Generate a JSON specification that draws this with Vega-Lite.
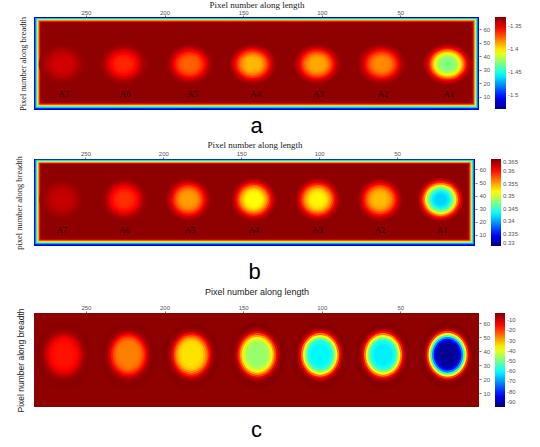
{
"$schema": "https://vega.github.io/schema/vega-lite/v6.json",
"padding": {"left": 14, "top": 0, "right": 2, "bottom": 0},
"background": "white",
"spacing": 3,
"config": {"view": {"stroke": null}, "axis": {"labelFont": "Liberation Sans", "labelFontSize": 6, "labelColor": "#555", "tickColor": "#777", "tickSize": 2, "domain": false, "grid": false, "titleColor": "#222", "titleFontWeight": "normal"}, "legend": {"labelFont": "Liberation Sans", "labelFontSize": 6, "labelColor": "#555", "padding": 0, "offset": 5, "labelOverlap": false, "gradientStrokeWidth": 0}},
"resolve": {"scale": {"x": "independent", "y": "independent", "color": "independent", "size": "independent"}, "legend": {"color": "independent"}},
"datasets": {
"fa": [{"x":0,"x2":283,"y":0,"y2":69,"v":-1.51},{"x":0.8,"x2":282.2,"y":1.3,"y2":68.3,"v":-1.47},{"x":1.5,"x2":281.5,"y":2.1,"y2":67.7,"v":-1.44},{"x":2.2,"x2":280.8,"y":2.9,"y2":67.1,"v":-1.406},{"x":2.8,"x2":280.2,"y":3.6,"y2":66.5,"v":-1.374},{"x":3.4,"x2":279.6,"y":4.3,"y2":65.9,"v":-1.354},{"x":4,"x2":279,"y":5,"y2":65.3,"v":-1.333}],
"fb": [{"x":0,"x2":283,"y":1.5,"y2":68,"v":0.3335},{"x":0.8,"x2":282.2,"y":2.9,"y2":67.4,"v":0.3405},{"x":1.5,"x2":281.5,"y":3.7,"y2":66.8,"v":0.3458},{"x":2.2,"x2":280.8,"y":4.4,"y2":66.1,"v":0.3517},{"x":2.8,"x2":280.2,"y":5.1,"y2":65.5,"v":0.3573},{"x":3.4,"x2":279.6,"y":5.8,"y2":64.9,"v":0.3608},{"x":4,"x2":279,"y":6.5,"y2":64.3,"v":0.3645}],
"fc": [{"x":0,"x2":283,"y":0,"y2":67.5,"v":-4.4}],
"la": [{"x":19,"y":12,"t":"A1"},{"x":61,"y":12,"t":"A2"},{"x":102,"y":12,"t":"A3"},{"x":142,"y":12,"t":"A4"},{"x":182,"y":12,"t":"A5"},{"x":225,"y":12,"t":"A6"},{"x":264,"y":12,"t":"A7"}],
"lb": [{"x":21,"y":14,"t":"A1"},{"x":61,"y":14,"t":"A2"},{"x":101,"y":14,"t":"A3"},{"x":142,"y":14,"t":"A4"},{"x":183,"y":14,"t":"A5"},{"x":225,"y":14,"t":"A6"},{"x":265,"y":14,"t":"A7"}],
"ra": [
{"x":20,"y":34,"r":13,"v":-1.338},{"x":20,"y":34,"r":12,"v":-1.345},{"x":20,"y":34,"r":11,"v":-1.354},{"x":20,"y":34,"r":10,"v":-1.369},{"x":20,"y":34,"r":9,"v":-1.384},{"x":20,"y":34,"r":8,"v":-1.399},{"x":20,"y":34,"r":7,"v":-1.411},{"x":20,"y":34,"r":6,"v":-1.419},{"x":20,"y":34,"r":5,"v":-1.426},{"x":20,"y":34,"r":3.5,"v":-1.43},
{"x":62,"y":34,"r":13,"v":-1.336},{"x":62,"y":34,"r":12,"v":-1.339},{"x":62,"y":34,"r":11,"v":-1.344},{"x":62,"y":34,"r":10,"v":-1.351},{"x":62,"y":34,"r":9,"v":-1.359},{"x":62,"y":34,"r":8,"v":-1.366},{"x":62,"y":34,"r":7,"v":-1.372},{"x":62,"y":34,"r":6,"v":-1.377},{"x":62,"y":34,"r":5,"v":-1.38},{"x":62,"y":34,"r":3.5,"v":-1.382},
{"x":103,"y":34,"r":13,"v":-1.336},{"x":103,"y":34,"r":12,"v":-1.34},{"x":103,"y":34,"r":11,"v":-1.345},{"x":103,"y":34,"r":10,"v":-1.353},{"x":103,"y":34,"r":9,"v":-1.362},{"x":103,"y":34,"r":8,"v":-1.37},{"x":103,"y":34,"r":7,"v":-1.377},{"x":103,"y":34,"r":6,"v":-1.382},{"x":103,"y":34,"r":5,"v":-1.386},{"x":103,"y":34,"r":3.5,"v":-1.388},
{"x":144,"y":34,"r":13,"v":-1.336},{"x":144,"y":34,"r":12,"v":-1.34},{"x":144,"y":34,"r":11,"v":-1.346},{"x":144,"y":34,"r":10,"v":-1.355},{"x":144,"y":34,"r":9,"v":-1.364},{"x":144,"y":34,"r":8,"v":-1.372},{"x":144,"y":34,"r":7,"v":-1.379},{"x":144,"y":34,"r":6,"v":-1.385},{"x":144,"y":34,"r":5,"v":-1.389},{"x":144,"y":34,"r":3.5,"v":-1.391},
{"x":184,"y":34,"r":13,"v":-1.335},{"x":184,"y":34,"r":12,"v":-1.338},{"x":184,"y":34,"r":11,"v":-1.342},{"x":184,"y":34,"r":10,"v":-1.348},{"x":184,"y":34,"r":9,"v":-1.355},{"x":184,"y":34,"r":8,"v":-1.361},{"x":184,"y":34,"r":7,"v":-1.366},{"x":184,"y":34,"r":6,"v":-1.37},{"x":184,"y":34,"r":5,"v":-1.372},{"x":184,"y":34,"r":3.5,"v":-1.374},
{"x":226,"y":34,"r":13,"v":-1.335},{"x":226,"y":34,"r":12,"v":-1.337},{"x":226,"y":34,"r":11,"v":-1.339},{"x":226,"y":34,"r":10,"v":-1.344},{"x":226,"y":34,"r":9,"v":-1.348},{"x":226,"y":34,"r":8,"v":-1.353},{"x":226,"y":34,"r":7,"v":-1.356},{"x":226,"y":34,"r":6,"v":-1.359},{"x":226,"y":34,"r":5,"v":-1.361},{"x":226,"y":34,"r":3.5,"v":-1.362},
{"x":265,"y":34,"r":13,"v":-1.334},{"x":265,"y":34,"r":12,"v":-1.335},{"x":265,"y":34,"r":11,"v":-1.336},{"x":265,"y":34,"r":10,"v":-1.338},{"x":265,"y":34,"r":9,"v":-1.34},{"x":265,"y":34,"r":8,"v":-1.342},{"x":265,"y":34,"r":7,"v":-1.343},{"x":265,"y":34,"r":6,"v":-1.345},{"x":265,"y":34,"r":5,"v":-1.346},{"x":265,"y":34,"r":3.5,"v":-1.346}
],
"rb": [
{"x":22,"y":37,"r":13,"v":0.3634},{"x":22,"y":37,"r":12,"v":0.3618},{"x":22,"y":37,"r":11,"v":0.3595},{"x":22,"y":37,"r":10,"v":0.356},{"x":22,"y":37,"r":9,"v":0.3524},{"x":22,"y":37,"r":8,"v":0.3489},{"x":22,"y":37,"r":7,"v":0.3462},{"x":22,"y":37,"r":6,"v":0.3441},{"x":22,"y":37,"r":5,"v":0.3425},{"x":22,"y":37,"r":3.5,"v":0.3416},
{"x":61,"y":37,"r":13,"v":0.364},{"x":61,"y":37,"r":12,"v":0.3633},{"x":61,"y":37,"r":11,"v":0.3622},{"x":61,"y":37,"r":10,"v":0.3607},{"x":61,"y":37,"r":9,"v":0.359},{"x":61,"y":37,"r":8,"v":0.3575},{"x":61,"y":37,"r":7,"v":0.3563},{"x":61,"y":37,"r":6,"v":0.3553},{"x":61,"y":37,"r":5,"v":0.3546},{"x":61,"y":37,"r":3.5,"v":0.3542},
{"x":101,"y":37,"r":13,"v":0.3639},{"x":101,"y":37,"r":12,"v":0.363},{"x":101,"y":37,"r":11,"v":0.3618},{"x":101,"y":37,"r":10,"v":0.3599},{"x":101,"y":37,"r":9,"v":0.3579},{"x":101,"y":37,"r":8,"v":0.3561},{"x":101,"y":37,"r":7,"v":0.3546},{"x":101,"y":37,"r":6,"v":0.3535},{"x":101,"y":37,"r":5,"v":0.3526},{"x":101,"y":37,"r":3.5,"v":0.3521},
{"x":142,"y":37,"r":13,"v":0.3639},{"x":142,"y":37,"r":12,"v":0.363},{"x":142,"y":37,"r":11,"v":0.3617},{"x":142,"y":37,"r":10,"v":0.3598},{"x":142,"y":37,"r":9,"v":0.3577},{"x":142,"y":37,"r":8,"v":0.3558},{"x":142,"y":37,"r":7,"v":0.3543},{"x":142,"y":37,"r":6,"v":0.3531},{"x":142,"y":37,"r":5,"v":0.3522},{"x":142,"y":37,"r":3.5,"v":0.3517},
{"x":184,"y":37,"r":13,"v":0.364},{"x":184,"y":37,"r":12,"v":0.3634},{"x":184,"y":37,"r":11,"v":0.3625},{"x":184,"y":37,"r":10,"v":0.3611},{"x":184,"y":37,"r":9,"v":0.3596},{"x":184,"y":37,"r":8,"v":0.3582},{"x":184,"y":37,"r":7,"v":0.3571},{"x":184,"y":37,"r":6,"v":0.3562},{"x":184,"y":37,"r":5,"v":0.3556},{"x":184,"y":37,"r":3.5,"v":0.3552},
{"x":225,"y":37,"r":13,"v":0.3642},{"x":225,"y":37,"r":12,"v":0.3639},{"x":225,"y":37,"r":11,"v":0.3633},{"x":225,"y":37,"r":10,"v":0.3625},{"x":225,"y":37,"r":9,"v":0.3616},{"x":225,"y":37,"r":8,"v":0.3608},{"x":225,"y":37,"r":7,"v":0.3602},{"x":225,"y":37,"r":6,"v":0.3597},{"x":225,"y":37,"r":5,"v":0.3593},{"x":225,"y":37,"r":3.5,"v":0.3591},
{"x":265,"y":37,"r":13,"v":0.3644},{"x":265,"y":37,"r":12,"v":0.3643},{"x":265,"y":37,"r":11,"v":0.3641},{"x":265,"y":37,"r":10,"v":0.3638},{"x":265,"y":37,"r":9,"v":0.3635},{"x":265,"y":37,"r":8,"v":0.3632},{"x":265,"y":37,"r":7,"v":0.363},{"x":265,"y":37,"r":6,"v":0.3628},{"x":265,"y":37,"r":5,"v":0.3627},{"x":265,"y":37,"r":3.5,"v":0.3626}
],
"rc": [
{"x":20,"y":37,"r":16.5,"v":-3.4},{"x":20,"y":37.5,"r":14,"v":-5.3},{"x":20,"y":37.5,"r":13,"v":-9.7},{"x":20,"y":37.5,"r":12,"v":-20.4},{"x":20,"y":37.5,"r":11,"v":-37.3},{"x":20,"y":37.5,"r":10,"v":-55.9},{"x":20,"y":37.5,"r":9,"v":-71},{"x":20,"y":37.5,"r":8,"v":-82.5},{"x":20,"y":37.5,"r":7,"v":-89.6},{"x":20,"y":37.5,"r":5.5,"v":-93.2},
{"x":61,"y":37,"r":16.5,"v":-3.5},{"x":61,"y":37.5,"r":14,"v":-5},{"x":61,"y":37.5,"r":13,"v":-7.9},{"x":61,"y":37.5,"r":12,"v":-14.8},{"x":61,"y":37.5,"r":11,"v":-25.7},{"x":61,"y":37.5,"r":10,"v":-37.8},{"x":61,"y":37.5,"r":9,"v":-47.5},{"x":61,"y":37.5,"r":8,"v":-55},{"x":61,"y":37.5,"r":7,"v":-59.6},{"x":61,"y":37.5,"r":5.5,"v":-61.9},
{"x":101,"y":37,"r":16.5,"v":-3.5},{"x":101,"y":37.5,"r":14,"v":-5},{"x":101,"y":37.5,"r":13,"v":-7.8},{"x":101,"y":37.5,"r":12,"v":-14.6},{"x":101,"y":37.5,"r":11,"v":-25.3},{"x":101,"y":37.5,"r":10,"v":-37.2},{"x":101,"y":37.5,"r":9,"v":-46.9},{"x":101,"y":37.5,"r":8,"v":-54.2},{"x":101,"y":37.5,"r":7,"v":-58.7},{"x":101,"y":37.5,"r":5.5,"v":-61},
{"x":141,"y":37,"r":16.5,"v":-3.6},{"x":141,"y":37.5,"r":14,"v":-4.8},{"x":141,"y":37.5,"r":13,"v":-7},{"x":141,"y":37.5,"r":12,"v":-12.1},{"x":141,"y":37.5,"r":11,"v":-20.2},{"x":141,"y":37.5,"r":10,"v":-29.1},{"x":141,"y":37.5,"r":9,"v":-36.4},{"x":141,"y":37.5,"r":8,"v":-41.9},{"x":141,"y":37.5,"r":7,"v":-45.3},{"x":141,"y":37.5,"r":5.5,"v":-47},
{"x":183,"y":37,"r":16.5,"v":-3.6},{"x":183,"y":37.5,"r":14,"v":-4.7},{"x":183,"y":37.5,"r":13,"v":-6.2},{"x":183,"y":37.5,"r":12,"v":-9.9},{"x":183,"y":37.5,"r":11,"v":-15.7},{"x":183,"y":37.5,"r":10,"v":-22.2},{"x":183,"y":37.5,"r":9,"v":-27.4},{"x":183,"y":37.5,"r":8,"v":-31.3},{"x":183,"y":37.5,"r":7,"v":-33.8},{"x":183,"y":37.5,"r":5.5,"v":-35},
{"x":223,"y":37,"r":16.5,"v":-3.7},{"x":223,"y":37.5,"r":14,"v":-4.6},{"x":223,"y":37.5,"r":13,"v":-5.7},{"x":223,"y":37.5,"r":12,"v":-8.3},{"x":223,"y":37.5,"r":11,"v":-12.4},{"x":223,"y":37.5,"r":10,"v":-16.9},{"x":223,"y":37.5,"r":9,"v":-20.6},{"x":223,"y":37.5,"r":8,"v":-23.4},{"x":223,"y":37.5,"r":7,"v":-25.1},{"x":223,"y":37.5,"r":5.5,"v":-26},
{"x":264,"y":37,"r":16.5,"v":-3.8},{"x":264,"y":37.5,"r":14,"v":-4.5},{"x":264,"y":37.5,"r":13,"v":-5.1},{"x":264,"y":37.5,"r":12,"v":-6.5},{"x":264,"y":37.5,"r":11,"v":-8.7},{"x":264,"y":37.5,"r":10,"v":-11.1},{"x":264,"y":37.5,"r":9,"v":-13},{"x":264,"y":37.5,"r":8,"v":-14.5},{"x":264,"y":37.5,"r":7,"v":-15.4},{"x":264,"y":37.5,"r":5.5,"v":-15.9}
]
},
"vconcat": [
{
"width": 445, "height": 93,
"title": {"text": "a", "orient": "bottom", "fontSize": 22, "font": "Liberation Sans", "fontWeight": "normal", "offset": 5, "color": "#000"},
"resolve": {"axis": {"y": "independent"}},
"layer": [
{"data": {"name": "fa"}, "mark": {"type": "rect"},
"encoding": {
"x": {"field": "x", "type": "quantitative", "scale": {"domain": [0, 283], "reverse": true, "nice": false, "zero": false}, "axis": {"orient": "top", "values": [50, 100, 150, 200, 250], "title": "Pixel number along length", "titleFont": "Liberation Serif", "titleFontSize": 9, "titlePadding": 0, "labelPadding": 0}},
"x2": {"field": "x2"},
"y": {"field": "y", "type": "quantitative", "scale": {"domain": [0, 69], "nice": false, "zero": false}, "axis": {"orient": "left", "labels": false, "ticks": false, "title": "Pixel number along breadth", "titleFont": "Liberation Serif", "titleFontSize": 8.5, "titlePadding": 7}},
"y2": {"field": "y2"},
"color": {"field": "v", "type": "quantitative", "scale": {"domain": [-1.53, -1.505, -1.48, -1.455, -1.43, -1.405, -1.38, -1.355, -1.33], "range": ["#000080", "#0000ff", "#0080ff", "#00ffff", "#80ff80", "#ffff00", "#ff8000", "#ff0000", "#800000"], "interpolate": "rgb"}, "legend": {"title": null, "gradientLength": 92, "gradientThickness": 11, "values": [-1.35, -1.4, -1.45, -1.5], "labelExpr": "'' + datum.value"}}
}},
{"data": {"name": "ra"}, "mark": {"type": "point", "filled": true, "opacity": 1, "strokeWidth": 0, "shape": "M-1,0A1,0.85,0,1,0,1,0A1,0.85,0,1,0,-1,0Z"},
"encoding": {
"x": {"field": "x", "type": "quantitative", "scale": {"domain": [0, 283], "reverse": true, "nice": false, "zero": false}, "axis": {"orient": "top", "values": [50, 100, 150, 200, 250], "title": "Pixel number along length", "titleFont": "Liberation Serif", "titleFontSize": 9, "titlePadding": 0, "labelPadding": 0}},
"y": {"field": "y", "type": "quantitative", "scale": {"domain": [0, 69], "nice": false, "zero": false}, "axis": {"orient": "right", "values": [10, 20, 30, 40, 50, 60], "title": null, "labelPadding": 2}},
"size": {"field": "r", "type": "quantitative", "scale": {"type": "pow", "exponent": 2, "domain": [0, 30], "range": [0, 11772], "zero": true}, "legend": null},
"color": {"field": "v", "type": "quantitative", "scale": {"domain": [-1.53, -1.505, -1.48, -1.455, -1.43, -1.405, -1.38, -1.355, -1.33], "range": ["#000080", "#0000ff", "#0080ff", "#00ffff", "#80ff80", "#ffff00", "#ff8000", "#ff0000", "#800000"], "interpolate": "rgb"}, "legend": {"title": null, "gradientLength": 92, "gradientThickness": 11, "values": [-1.35, -1.4, -1.45, -1.5], "labelExpr": "'' + datum.value"}}
}},
{"data": {"name": "la"}, "mark": {"type": "text", "font": "Liberation Serif", "fontSize": 9, "color": "#2a0505"},
"encoding": {
"x": {"field": "x", "type": "quantitative", "scale": {"domain": [0, 283], "reverse": true, "nice": false, "zero": false}, "axis": {"orient": "top", "values": [50, 100, 150, 200, 250], "title": "Pixel number along length", "titleFont": "Liberation Serif", "titleFontSize": 9, "titlePadding": 0, "labelPadding": 0}},
"y": {"field": "y", "type": "quantitative", "scale": {"domain": [0, 69], "nice": false, "zero": false}, "axis": null},
"text": {"field": "t"}
}}
]
},
{
"width": 441, "height": 87,
"title": {"text": "b", "orient": "bottom", "fontSize": 22, "font": "Liberation Sans", "fontWeight": "normal", "offset": 13, "color": "#000"},
"resolve": {"axis": {"y": "independent"}},
"layer": [
{"data": {"name": "fb"}, "mark": {"type": "rect"},
"encoding": {
"x": {"field": "x", "type": "quantitative", "scale": {"domain": [0, 283], "reverse": true, "nice": false, "zero": false}, "axis": {"orient": "top", "values": [50, 100, 150, 200, 250], "title": "Pixel number along length", "titleFont": "Liberation Serif", "titleFontSize": 9, "titlePadding": 1, "labelPadding": 1}},
"x2": {"field": "x2"},
"y": {"field": "y", "type": "quantitative", "scale": {"domain": [1.5, 68], "nice": false, "zero": false}, "axis": {"orient": "left", "labels": false, "ticks": false, "title": "pixel number along breadth", "titleFont": "Liberation Serif", "titleFontSize": 8.5, "titlePadding": 11}},
"y2": {"field": "y2"},
"color": {"field": "v", "type": "quantitative", "scale": {"domain": [0.33, 0.334375, 0.33875, 0.343125, 0.3475, 0.351875, 0.35625, 0.360625, 0.365], "range": ["#000080", "#0000ff", "#0080ff", "#00ffff", "#80ff80", "#ffff00", "#ff8000", "#ff0000", "#800000"], "interpolate": "rgb"}, "legend": {"title": null, "gradientLength": 87, "gradientThickness": 10, "values": [0.365, 0.36, 0.355, 0.35, 0.345, 0.34, 0.335, 0.33], "labelExpr": "'' + datum.value"}}
}},
{"data": {"name": "rb"}, "mark": {"type": "point", "filled": true, "opacity": 1, "strokeWidth": 0, "shape": "M-1,0A1,0.95,0,1,0,1,0A1,0.95,0,1,0,-1,0Z"},
"encoding": {
"x": {"field": "x", "type": "quantitative", "scale": {"domain": [0, 283], "reverse": true, "nice": false, "zero": false}, "axis": {"orient": "top", "values": [50, 100, 150, 200, 250], "title": "Pixel number along length", "titleFont": "Liberation Serif", "titleFontSize": 9, "titlePadding": 1, "labelPadding": 1}},
"y": {"field": "y", "type": "quantitative", "scale": {"domain": [1.5, 68], "nice": false, "zero": false}, "axis": {"orient": "right", "values": [10, 20, 30, 40, 50, 60], "title": null, "labelPadding": 2}},
"size": {"field": "r", "type": "quantitative", "scale": {"type": "pow", "exponent": 2, "domain": [0, 30], "range": [0, 10966], "zero": true}, "legend": null},
"color": {"field": "v", "type": "quantitative", "scale": {"domain": [0.33, 0.334375, 0.33875, 0.343125, 0.3475, 0.351875, 0.35625, 0.360625, 0.365], "range": ["#000080", "#0000ff", "#0080ff", "#00ffff", "#80ff80", "#ffff00", "#ff8000", "#ff0000", "#800000"], "interpolate": "rgb"}, "legend": {"title": null, "gradientLength": 87, "gradientThickness": 10, "values": [0.365, 0.36, 0.355, 0.35, 0.345, 0.34, 0.335, 0.33], "labelExpr": "'' + datum.value"}}
}},
{"data": {"name": "lb"}, "mark": {"type": "text", "font": "Liberation Serif", "fontSize": 9, "color": "#2a0505"},
"encoding": {
"x": {"field": "x", "type": "quantitative", "scale": {"domain": [0, 283], "reverse": true, "nice": false, "zero": false}, "axis": {"orient": "top", "values": [50, 100, 150, 200, 250], "title": "Pixel number along length", "titleFont": "Liberation Serif", "titleFontSize": 9, "titlePadding": 1, "labelPadding": 1}},
"y": {"field": "y", "type": "quantitative", "scale": {"domain": [1.5, 68], "nice": false, "zero": false}, "axis": null},
"text": {"field": "t"}
}}
]
},
{
"width": 445, "height": 94,
"title": {"text": "c", "orient": "bottom", "fontSize": 22, "font": "Liberation Sans", "fontWeight": "normal", "offset": 8, "color": "#000"},
"resolve": {"axis": {"y": "independent"}},
"layer": [
{"data": {"name": "fc"}, "mark": {"type": "rect"},
"encoding": {
"x": {"field": "x", "type": "quantitative", "scale": {"domain": [0, 283], "reverse": true, "nice": false, "zero": false}, "axis": {"orient": "top", "values": [50, 100, 150, 200, 250], "title": "Pixel number along length", "titleFont": "Liberation Sans", "titleFontSize": 9, "titlePadding": 8, "labelPadding": 1}},
"x2": {"field": "x2"},
"y": {"field": "y", "type": "quantitative", "scale": {"domain": [0, 67.5], "nice": false, "zero": false}, "axis": {"orient": "left", "labels": false, "ticks": false, "title": "Pixel number along breadth", "titleFont": "Liberation Sans", "titleFontSize": 8.5, "titlePadding": 9}},
"y2": {"field": "y2"},
"color": {"field": "v", "type": "quantitative", "scale": {"domain": [-95, -83.5, -72, -60.5, -49, -37.5, -26, -14.5, -3], "range": ["#000080", "#0000ff", "#0080ff", "#00ffff", "#80ff80", "#ffff00", "#ff8000", "#ff0000", "#800000"], "interpolate": "rgb"}, "legend": {"title": null, "gradientLength": 94, "gradientThickness": 10, "values": [-10, -20, -30, -40, -50, -60, -70, -80, -90], "labelExpr": "'' + datum.value"}}
}},
{"data": {"name": "rc"}, "mark": {"type": "point", "filled": true, "opacity": 1, "strokeWidth": 0, "shape": "M-1,0A1,1.15,0,1,0,1,0A1,1.15,0,1,0,-1,0Z"},
"encoding": {
"x": {"field": "x", "type": "quantitative", "scale": {"domain": [0, 283], "reverse": true, "nice": false, "zero": false}, "axis": {"orient": "top", "values": [50, 100, 150, 200, 250], "title": "Pixel number along length", "titleFont": "Liberation Sans", "titleFontSize": 9, "titlePadding": 8, "labelPadding": 1}},
"y": {"field": "y", "type": "quantitative", "scale": {"domain": [0, 67.5], "nice": false, "zero": false}, "axis": {"orient": "right", "values": [10, 20, 30, 40, 50, 60], "title": null, "labelPadding": 2}},
"size": {"field": "r", "type": "quantitative", "scale": {"type": "pow", "exponent": 2, "domain": [0, 30], "range": [0, 10770], "zero": true}, "legend": null},
"color": {"field": "v", "type": "quantitative", "scale": {"domain": [-95, -83.5, -72, -60.5, -49, -37.5, -26, -14.5, -3], "range": ["#000080", "#0000ff", "#0080ff", "#00ffff", "#80ff80", "#ffff00", "#ff8000", "#ff0000", "#800000"], "interpolate": "rgb"}, "legend": {"title": null, "gradientLength": 94, "gradientThickness": 10, "values": [-10, -20, -30, -40, -50, -60, -70, -80, -90], "labelExpr": "'' + datum.value"}}
}}
]
}
]
}
